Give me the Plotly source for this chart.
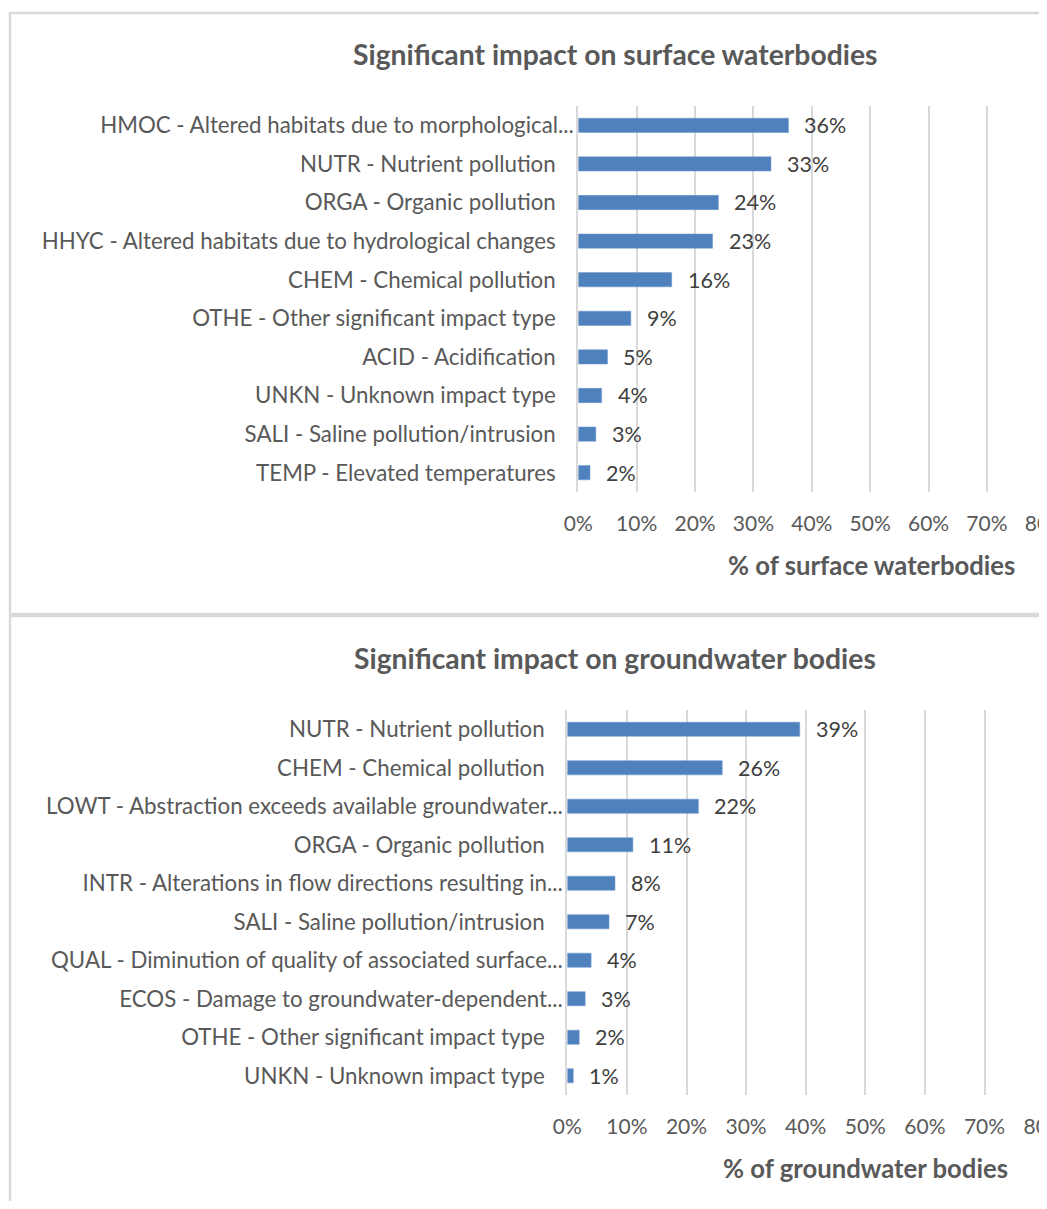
import plotly.graph_objects as go

# The page body has an 8px margin; reference pixel coords are shifted by OFF.
OFF = 8
W, H = 1047 - OFF, 1209 - 2 * OFF

# ---- data ----
surface_categories = [
    "HMOC - Altered habitats due to morphological...",
    "NUTR - Nutrient pollution",
    "ORGA - Organic pollution",
    "HHYC - Altered habitats due to hydrological changes",
    "CHEM - Chemical pollution",
    "OTHE - Other significant impact type",
    "ACID - Acidification",
    "UNKN - Unknown impact type",
    "SALI - Saline pollution/intrusion",
    "TEMP - Elevated temperatures",
]
surface_values = [36, 33, 24, 23, 16, 9, 5, 4, 3, 2]

ground_categories = [
    "NUTR - Nutrient pollution",
    "CHEM - Chemical pollution",
    "LOWT - Abstraction exceeds available groundwater...",
    "ORGA - Organic pollution",
    "INTR - Alterations in flow directions resulting in...",
    "SALI - Saline pollution/intrusion",
    "QUAL - Diminution of quality of associated surface...",
    "ECOS - Damage to groundwater-dependent...",
    "OTHE - Other significant impact type",
    "UNKN - Unknown impact type",
]
ground_values = [39, 26, 22, 11, 8, 7, 4, 3, 2, 1]

x_ticks = [0, 10, 20, 30, 40, 50, 60, 70, 80]
x_tick_labels = ["0%", "10%", "20%", "30%", "40%", "50%", "60%", "70%", "80%"]

titles = ["Significant impact on surface waterbodies", "Significant impact on groundwater bodies"]
axis_titles = ["% of surface waterbodies", "% of groundwater bodies"]

FONT = "Lato, 'Open Sans', sans-serif"
BAR = "#4f81bd"
GRID = "#d9d9d9"
TICK = "#595959"


def px(x):
    return (x - OFF) / W


def py(y):
    return 1 - (y - OFF) / H


def label_text(cats):
    # truncated labels (with ellipsis) sit closer to the axis, like Excel does
    return [c if c.endswith("...") else c + "\u2003\u200a" for c in cats]


fig = go.Figure()
fig.add_trace(go.Bar(x=surface_values, y=surface_categories, orientation="h",
                     marker=dict(color=BAR, line=dict(color="#6d97cf", width=0.5)),
                     xaxis="x", yaxis="y", hoverinfo="x+y"))
fig.add_trace(go.Bar(x=ground_values, y=ground_categories, orientation="h",
                     marker=dict(color=BAR, line=dict(color="#6d97cf", width=0.5)),
                     xaxis="x2", yaxis="y2", hoverinfo="x+y"))

annotations = []
for vals, cats, xr, yr in [(surface_values, surface_categories, "x", "y"),
                           (ground_values, ground_categories, "x2", "y2")]:
    for v, c in zip(vals, cats):
        annotations.append(dict(x=v, y=c, xref=xr, yref=yr, text=f"{v}%",
                                showarrow=False, xanchor="left", xshift=14,
                                font=dict(family=FONT, size=21.5, color="#404040")))

title_pos = [(615, 54), (615, 658)]
for t, (tx, ty) in zip(titles, title_pos):
    annotations.append(dict(x=px(tx), y=py(ty), xref="paper", yref="paper", text=f"<b>{t}</b>",
                            showarrow=False, xanchor="center", yanchor="middle",
                            font=dict(family=FONT, size=28.3, color=TICK)))
axt_pos = [(871, 565), (865, 1168)]
for t, (tx, ty) in zip(axis_titles, axt_pos):
    annotations.append(dict(x=px(tx), y=py(ty), xref="paper", yref="paper", text=f"<b>{t}</b>",
                            showarrow=False, xanchor="center", yanchor="middle",
                            font=dict(family=FONT, size=25.7, color=TICK)))

# pixel scale of each panel: 0% position and px per 1%
top_x0, top_k = 578.3, 5.8375
bot_x0, bot_k = 567.3, 5.96
right_edge = 1047  # last visible reference pixel column

common_x = dict(tickvals=x_ticks, ticktext=x_tick_labels, showgrid=True,
                gridcolor=GRID, gridwidth=2, zeroline=False, showline=False, ticks="",
                tickfont=dict(family=FONT, size=21, color=TICK), fixedrange=True,
                ticklabelstandoff=17, ticklabeloverflow="allow", automargin=False)
common_y = dict(autorange="reversed", showgrid=False, zeroline=False, ticks="",
                showline=True, linecolor=GRID, linewidth=2, automargin=False,
                tickfont=dict(family=FONT, size=22.3, color=TICK), ticklabelstandoff=-2)

shapes = []
for (x0, y0, x1, y1) in [(10, 13, 1070, 614), (10, 616, 1070, 1230)]:
    shapes.append(dict(type="rect", xref="paper", yref="paper",
                       x0=px(x0), x1=px(x1), y0=py(y1), y1=py(y0),
                       line=dict(color=GRID, width=2.5), layer="below"))

fig.update_layout(
    width=W, height=H,
    margin=dict(l=0, r=0, t=0, b=0, pad=0, autoexpand=False),
    paper_bgcolor="white", plot_bgcolor="white",
    showlegend=False,
    bargap=0.63,
    xaxis=dict(domain=[px(top_x0), 1], anchor="y",
               range=[0, (right_edge - top_x0) / top_k], **common_x),
    yaxis=dict(domain=[py(492), py(106)], anchor="x",
               tickmode="array", tickvals=surface_categories,
               ticktext=label_text(surface_categories), **common_y),
    xaxis2=dict(domain=[px(bot_x0), 1], anchor="y2",
                range=[0, (right_edge - bot_x0) / bot_k], **common_x),
    yaxis2=dict(domain=[py(1095), py(710)], anchor="x2",
                tickmode="array", tickvals=ground_categories,
                ticktext=label_text(ground_categories), **common_y),
    annotations=annotations,
    shapes=shapes,
    font=dict(family=FONT),
)

fig.write_html("out.html")
